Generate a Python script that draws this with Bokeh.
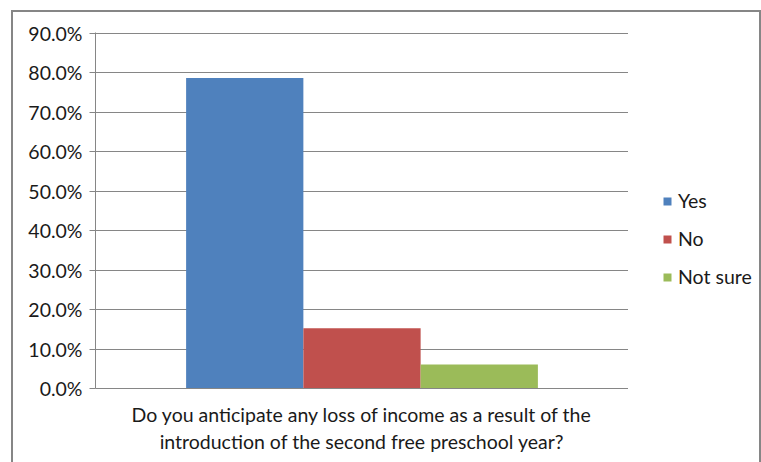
from bokeh.plotting import figure
from bokeh.layouts import row
from bokeh.models import (ColumnDataSource, FactorRange, Range1d, NumeralTickFormatter,
                          FixedTicker, Legend, LegendItem)
from bokeh.transform import dodge
from bokeh.embed import file_html
from bokeh.resources import INLINE

question = "Do you anticipate any loss of income as a result of the\nintroduction of the second free preschool year?"
series = ["Yes", "No", "Not sure"]
values = [0.787, 0.153, 0.061]
colors = ["#4F81BD", "#C0504D", "#9BBB59"]
y_ticks = [0.0, 0.1, 0.2, 0.3, 0.4, 0.5, 0.6, 0.7, 0.8, 0.9]

FONT = "Lato"
GRAY = "#868686"
FS = "19.5px"

p = figure(width=615, height=450, output_backend="svg", toolbar_location=None,
           x_range=FactorRange(factors=[question], range_padding=0),
           y_range=Range1d(0, 0.9025),
           min_border_left=82, min_border_right=0, min_border_top=20, min_border_bottom=74,
           margin=0)
p.outline_line_color = None
p.background_fill_color = "white"
p.border_fill_color = "white"

offsets = [-0.22, 0.0, 0.22]
for s, v, c, off in zip(series, values, colors, offsets):
    src = ColumnDataSource(dict(x=[question], top=[v]))
    p.vbar(x=dodge("x", off, range=p.x_range), top="top", width=0.22, source=src,
           fill_color=c, line_color=None)

# axes
p.yaxis.ticker = FixedTicker(ticks=y_ticks)
p.yaxis.formatter = NumeralTickFormatter(format="0.0%")
p.yaxis.axis_line_color = GRAY
p.yaxis.major_tick_line_color = GRAY
p.yaxis.major_tick_out = 6
p.yaxis.major_tick_in = 0
p.yaxis.minor_tick_line_color = None
p.yaxis.major_label_text_font = FONT
p.yaxis.major_label_text_font_size = FS
p.yaxis.major_label_text_color = "#1a1a1a"
p.yaxis.major_label_standoff = 7

p.xaxis.axis_line_color = GRAY
p.xaxis.major_tick_line_color = None
p.xaxis.major_label_text_font = FONT
p.xaxis.major_label_text_font_size = FS
p.xaxis.major_label_text_color = "#1a1a1a"
p.xaxis.major_label_standoff = 8

p.xgrid.grid_line_color = None
p.ygrid.grid_line_color = GRAY
p.ygrid.grid_line_width = 1

# legend panel (separate figure so the legend is not clipped by the plot frame)
pl = figure(width=131, height=450, output_backend="svg", toolbar_location=None,
            x_axis_location=None, y_axis_location=None, min_border=0, margin=0,
            x_range=Range1d(0, 1), y_range=Range1d(0, 1))
pl.outline_line_color = None
pl.grid.visible = False
pl.background_fill_color = "white"
pl.border_fill_color = "white"

items = []
for s, c in zip(series, colors):
    # proxy glyph placed outside the visible range; only its legend swatch shows
    r = pl.vbar(x=[5], bottom=[5], top=[6], width=0.1, fill_color=c, line_color=None)
    items.append(LegendItem(label=s, renderers=[r]))

legend = Legend(items=items, location="top_right", orientation="vertical",
                title=" ", title_text_font_size="1px", title_standoff=156,
                border_line_color=None, background_fill_alpha=0,
                label_text_font=FONT, label_text_font_size=FS, label_text_color="#1a1a1a",
                glyph_width=10, glyph_height=10, label_standoff=6, spacing=15,
                label_width=81, padding=0, margin=0)
pl.add_layout(legend, "center")

layout = row(p, pl, margin=(10, 0, 0, 11), spacing=0,
             styles={"border-top": "2px solid #868686", "border-left": "2px solid #868686",
                     "border-right": "2px solid #868686"})

open("out.html", "w").write(file_html(layout, INLINE))
